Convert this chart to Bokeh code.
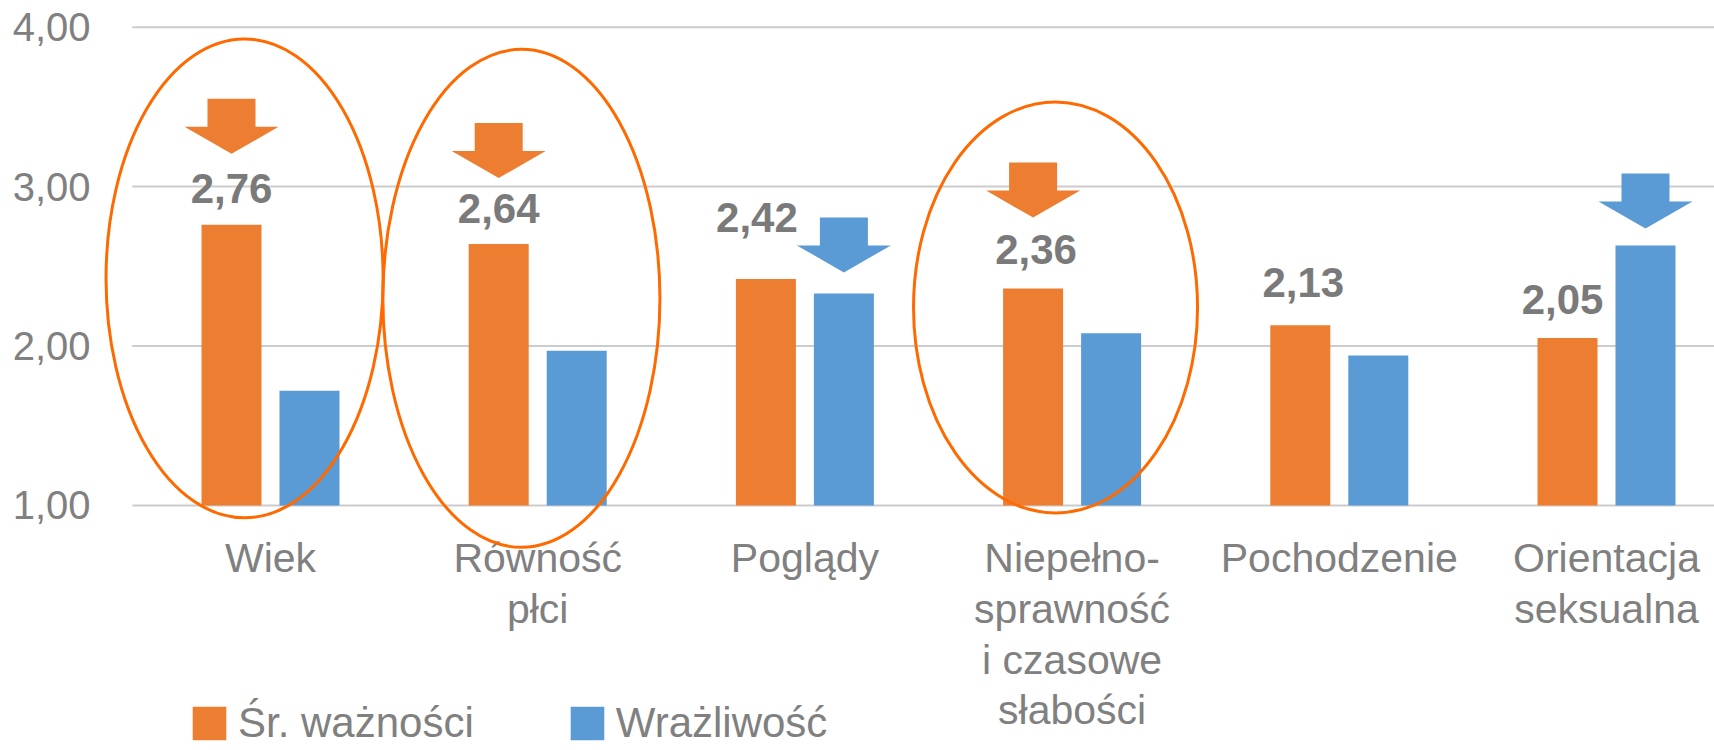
from bokeh.plotting import figure
from bokeh.models import ColumnDataSource, FixedTicker, Legend, LegendItem
from bokeh.transform import dodge
from bokeh.core.properties import value
from bokeh.embed import file_html
from bokeh.resources import INLINE

# ---------------- data ----------------
categories = ["Wiek", "Równość\npłci", "Poglądy",
              "Niepełno-\nsprawność\ni czasowe\nsłabości",
              "Pochodzenie", "Orientacja\nseksualna"]
importance = [2.76, 2.64, 2.42, 2.36, 2.13, 2.05]          # Śr. ważności
sensitivity = [1.72, 1.97, 2.33, 2.08, 1.94, 2.63]         # Wrażliwość
importance_labels = ["2,76", "2,64", "2,42", "2,36", "2,13", "2,05"]
series_names = ["Śr. ważności", "Wrażliwość"]
y_ticks = [1, 2, 3, 4]
y_tick_labels = ["1,00", "2,00", "3,00", "4,00"]

# highlights (annotations)
circled = [0, 1, 3]                       # categories circled in orange
arrow_cat = [0, 1, 2, 3, 5]               # categories with an arrow
arrow_series = ["imp", "imp", "sens", "imp", "sens"]

# ---------------- layout / style ----------------
ORANGE = "#ED7D31"
BLUE = "#5B9BD5"
RING = "#FF6A00"
GREY = "#808080"
FONT = "Liberation Sans"

W, H = 1714, 750
BL = 100                      # frame left (px)
frame_w, frame_h = W - BL, H
PXX = 1 / 267.2               # data units per px (x)
PXY = 1 / 159.4               # data units per px (y)
x_start = -(270 - BL) * PXX
x_end = x_start + frame_w * PXX
y_end = 4.0 + 26.7 * PXY
y_start = y_end - frame_h * PXY
grid_x0 = -(270 - 131.7) * PXX

BAR_W = 60 * PXX
DODGE = 39 * PXX

p = figure(width=W, height=H, x_range=(x_start, x_end), y_range=(y_start, y_end),
           x_axis_location=None, output_backend="svg", toolbar_location=None,
           min_border_left=BL, min_border_top=0, min_border_right=0, min_border_bottom=0)
p.outline_line_color = None
p.xgrid.grid_line_color = None
p.ygrid.grid_line_color = None

ax = p.yaxis[0]
ax.ticker = FixedTicker(ticks=y_ticks)
ax.major_label_overrides = dict(zip(y_ticks, y_tick_labels))
ax.axis_line_color = None
ax.major_tick_line_color = None
ax.minor_tick_line_color = None
ax.major_label_text_font_size = "40px"
ax.major_label_text_color = GREY
ax.major_label_text_font = FONT
ax.major_label_standoff = 4

# gridlines at the tick values, starting right of the tick labels
p.segment(x0=grid_x0, x1=x_end, y0=y_ticks, y1=y_ticks,
          line_color="#cccccc", line_width=2)

n = len(categories)
src = ColumnDataSource(dict(x=list(range(n)), cat=categories, imp=importance,
                            sens=sensitivity, lab=importance_labels,
                            ldx=[0, 0, -9, 3, 3, -5],
                            ldy=[-36, -35, -62, -39, -43, -39]))

r1 = p.vbar(x=dodge("x", -DODGE, range=p.x_range), top="imp", bottom=1.0,
            width=BAR_W, fill_color=ORANGE, line_color=None, source=src)
r2 = p.vbar(x=dodge("x", DODGE, range=p.x_range), top="sens", bottom=1.0,
            width=BAR_W, fill_color=BLUE, line_color=None, source=src)

# value labels
p.text(x=dodge("x", -DODGE, range=p.x_range), y="imp", text="lab",
       x_offset="ldx", y_offset="ldy", source=src,
       text_font=value(FONT), text_font_size="42px", text_font_style="bold",
       text_color="#7a7a7a", text_align="center", text_baseline="middle")

# category labels
p.text(x="x", y=1.0, text="cat", y_offset=30, source=src,
       text_font=value(FONT), text_font_size="41px", text_color=GREY,
       text_align="center", text_baseline="top", text_line_height=1.1)

# arrows (shape in px relative to the tip, y up)
shape = [(-47, 27), (-24, 27), (-24, 55), (24, 55), (24, 27), (47, 27), (0, 0)]
arrow_gap = [71, 66, 21, 71, 17]
xs, ys, cols = [], [], []
for c, s, g in zip(arrow_cat, arrow_series, arrow_gap):
    bx = c + (-DODGE if s == "imp" else DODGE)
    top = importance[c] if s == "imp" else sensitivity[c]
    ty = top + g * PXY
    xs.append([bx + dx * PXX for dx, dy in shape])
    ys.append([ty + dy * PXY for dx, dy in shape])
    cols.append(ORANGE if s == "imp" else BLUE)
p.patches(xs=xs, ys=ys, fill_color=cols, line_color=None)

# rings around highlighted categories
ring_dx = {0: -0.097, 1: -0.061, 3: -0.062}
ring_y = {0: 2.424, 1: 2.299, 3: 2.242}
ring_w = {0: 1.037, 1: 1.037, 3: 1.063}
ring_h = {0: 3.005, 1: 3.124, 3: 2.578}
p.ellipse(x=[c + ring_dx[c] for c in circled], y=[ring_y[c] for c in circled],
          width=[ring_w[c] for c in circled], height=[ring_h[c] for c in circled],
          fill_color=None, line_color=RING, line_width=3)

legend = Legend(items=[LegendItem(label=series_names[0], renderers=[r1]),
                       LegendItem(label=series_names[1], renderers=[r2])],
                location=(88, 3), orientation="horizontal",
                glyph_width=42, glyph_height=42, label_text_font_size="42px",
                label_text_font=FONT, label_text_color=GREY,
                label_standoff=8, spacing=92, padding=0, margin=0,
                border_line_color=None, background_fill_alpha=0)
p.add_layout(legend)

open("out.html", "w").write(file_html(p, INLINE))
